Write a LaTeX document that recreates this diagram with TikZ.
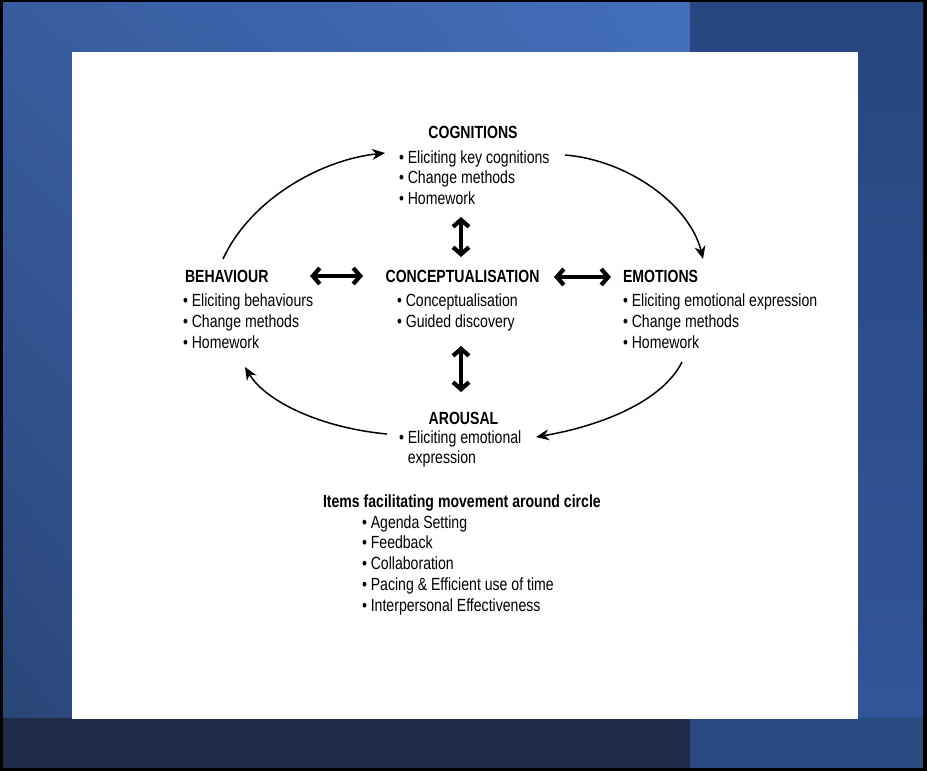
\documentclass[tikz,border=0pt]{standalone}
\usepackage{fontspec}
\setmainfont{Liberation Sans}[FakeStretch=0.8]
\usetikzlibrary{arrows.meta,shadings}
\definecolor{mainUL}{HTML}{385C9F}
\definecolor{mainUR}{HTML}{436FBA}
\definecolor{mainLL}{HTML}{2A4678}
\definecolor{mainLR}{HTML}{3A62A8}
\definecolor{rightTop}{HTML}{28467F}
\definecolor{rightMid}{HTML}{2C4C88}
\definecolor{rightBot}{HTML}{32559A}
\definecolor{botLeft}{HTML}{1E2B49}
\definecolor{botRight}{HTML}{2C4A82}
\begin{document}
\begin{tikzpicture}[x=1pt,y=-1pt,
  txt/.style={inner sep=0pt, outer sep=0pt, font=\fontsize{17.6}{20.8}\selectfont},
  headc/.style={txt, font=\fontsize{17.6}{20.8}\selectfont\bfseries, anchor=base},
  headl/.style={txt, font=\fontsize{17.6}{20.8}\selectfont\bfseries, anchor=base west},
  blist/.style={txt, align=left, anchor=north west},
  curvearrow/.style={line width=1.5pt, -{Stealth[length=13pt,width=11pt]}},
  bigarrow/.style={line width=4.2pt, {Straight Barb[length=7pt,width=16pt]}-{Straight Barb[length=7pt,width=16pt]}}
]
\useasboundingbox (0,0) rectangle (927,771);
% background
\fill[black] (0,0) rectangle (927,771);
\shade[upper left=mainUL, upper right=mainUR, lower left=mainLL, lower right=mainLR] (3,2) rectangle (690,718);
\shade[top color=rightTop, middle color=rightMid, bottom color=rightBot] (690,2) rectangle (923,718);
\fill[botLeft] (3,718) rectangle (690,768);
\fill[botRight] (690,718) rectangle (923,768);
\fill[white] (72,52) rectangle (858,719);

% headings
\node[headc] (cogHead) at (473,138) {COGNITIONS};
\node[headl] (behHead) at (185,282) {BEHAVIOUR};
\node[headc] (conHead) at (462.5,282) {CONCEPTUALISATION};
\node[headl] (emoHead) at (623,282) {EMOTIONS};
\node[headc] (arHead) at (463.5,424) {AROUSAL};
\node[headl] (itemsHead) at (323,507) {Items facilitating movement around circle};

% lists
\node[blist] (cogList) at (399,150.4) {• Eliciting key cognitions\\• Change methods\\• Homework};
\node[blist] (behList) at (183,294) {• Eliciting behaviours\\• Change methods\\• Homework};
\node[blist] (conList) at (397,294) {• Conceptualisation\\• Guided discovery};
\node[blist] (emoList) at (623,294) {• Eliciting emotional expression\\• Change methods\\• Homework};
\node[blist] (arList) at (399,430.4) {• Eliciting emotional\\\hphantom{• }expression};
\node[blist] (itemsList) at (362,515.4) {• Agenda Setting\\• Feedback\\• Collaboration\\• Pacing \& Efficient use of time\\• Interpersonal Effectiveness};

% connector end points
\coordinate (cvTop) at (461,217);
\coordinate (cvBot) at (461,257);
\coordinate (avTop) at (461,346);
\coordinate (avBot) at (461,392);
\coordinate (hlA) at (310,276);
\coordinate (hlB) at (363,276);
\coordinate (hrA) at (554,277);
\coordinate (hrB) at (611,277);
\coordinate (bcStart) at (223,259);
\coordinate (bcEnd) at (385,153);
\coordinate (ceStart) at (565,155);
\coordinate (ceEnd) at (703,259);
\coordinate (eaStart) at (682,362);
\coordinate (eaEnd) at (536,437);
\coordinate (abStart) at (387,434);
\coordinate (abEnd) at (245,367);

% thick double arrows
\draw[bigarrow] (cvTop) -- (cvBot);
\draw[bigarrow] (avTop) -- (avBot);
\draw[bigarrow] (hlA) -- (hlB);
\draw[bigarrow] (hrA) -- (hrB);

% curved cycle arrows
\draw[curvearrow] (bcStart) .. controls (250,200) and (320,160) .. (bcEnd);
\draw[curvearrow] (ceStart) .. controls (628,160) and (690,205) .. (ceEnd);
\draw[curvearrow] (eaStart) .. controls (662,402) and (600,426) .. (eaEnd);
\draw[curvearrow] (abStart) .. controls (322,428) and (266,402) .. (abEnd);
\end{tikzpicture}
\end{document}
